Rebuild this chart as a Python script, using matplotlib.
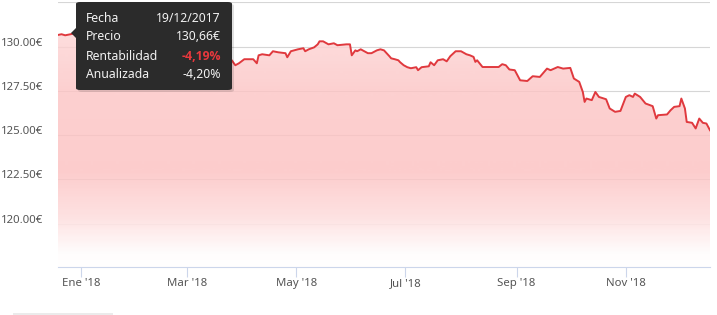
import numpy as np
import pandas as pd
import matplotlib
matplotlib.use('Agg')
import matplotlib.pyplot as plt
import matplotlib.dates as mdates
from matplotlib.patches import FancyBboxPatch, Polygon, Rectangle
from matplotlib.transforms import ScaledTranslation

plt.rcParams['font.family'] = ['Noto Sans', 'DejaVu Sans']

# price series
dates = ['2017-12-19', '2017-12-21', '2017-12-23', '2017-12-26', '2017-12-28',
         '2018-01-03', '2018-01-10', '2018-01-18', '2018-01-26', '2018-02-02',
         '2018-02-06', '2018-02-12', '2018-02-20', '2018-03-01', '2018-03-08',
         '2018-03-15', '2018-03-22', '2018-03-26', '2018-03-28', '2018-03-30',
         '2018-04-02', '2018-04-07', '2018-04-09', '2018-04-10', '2018-04-12',
         '2018-04-16', '2018-04-18', '2018-04-21', '2018-04-25', '2018-04-26',
         '2018-04-28', '2018-05-02', '2018-05-05', '2018-05-06', '2018-05-08',
         '2018-05-11', '2018-05-13', '2018-05-14', '2018-05-16', '2018-05-19',
         '2018-05-22', '2018-05-24', '2018-05-29', '2018-05-31', '2018-06-01',
         '2018-06-03', '2018-06-04', '2018-06-06', '2018-06-10', '2018-06-12',
         '2018-06-15', '2018-06-17', '2018-06-19', '2018-06-22', '2018-06-23',
         '2018-06-25', '2018-06-27', '2018-06-28', '2018-06-30', '2018-07-02',
         '2018-07-04', '2018-07-07', '2018-07-08', '2018-07-10', '2018-07-14',
         '2018-07-15', '2018-07-17', '2018-07-19', '2018-07-22', '2018-07-24',
         '2018-07-26', '2018-07-29', '2018-08-01', '2018-08-04', '2018-08-06',
         '2018-08-08', '2018-08-09', '2018-08-10', '2018-08-13', '2018-08-22',
         '2018-08-24', '2018-08-26', '2018-08-28', '2018-08-31', '2018-09-03',
         '2018-09-07', '2018-09-10', '2018-09-14', '2018-09-18', '2018-09-20',
         '2018-09-24', '2018-09-27', '2018-10-01', '2018-10-03', '2018-10-06',
         '2018-10-08', '2018-10-09', '2018-10-10', '2018-10-13', '2018-10-15',
         '2018-10-17', '2018-10-21', '2018-10-23', '2018-10-26', '2018-10-29',
         '2018-11-01', '2018-11-03', '2018-11-05', '2018-11-06', '2018-11-09',
         '2018-11-12', '2018-11-16', '2018-11-18', '2018-11-19', '2018-11-24',
         '2018-11-26', '2018-11-28', '2018-12-01', '2018-12-02', '2018-12-04',
         '2018-12-05', '2018-12-08', '2018-12-10', '2018-12-12', '2018-12-14',
         '2018-12-16', '2018-12-18']
precio = [130.66, 130.70, 130.64, 130.70, 130.75,
          130.90, 131.30, 131.10, 131.50, 130.60,
          129.40, 129.60, 129.90, 129.60, 129.80,
          129.50, 129.40, 129.23, 128.95, 129.06,
          129.29, 129.29, 129.06, 129.51, 129.57,
          129.51, 129.74, 129.68, 129.63, 129.40,
          129.74, 129.85, 129.91, 129.74, 129.85,
          129.96, 130.13, 130.30, 130.30, 130.13,
          130.19, 130.08, 130.13, 130.13, 129.51,
          129.79, 129.74, 129.85, 129.63, 129.63,
          129.79, 129.85, 129.79, 129.46, 129.34,
          129.29, 129.23, 129.12, 128.95, 128.84,
          128.78, 128.84, 128.67, 128.84, 128.89,
          129.12, 128.95, 129.23, 129.29, 129.17,
          129.46, 129.74, 129.74, 129.57, 129.51,
          129.42, 129.14, 129.23, 128.85, 128.85,
          129.01, 128.95, 128.71, 128.67, 128.10,
          128.06, 128.33, 128.29, 128.76, 128.67,
          128.85, 128.76, 128.80, 128.20, 128.01,
          127.44, 126.88, 127.07, 126.98, 127.44,
          127.16, 127.03, 126.51, 126.32, 126.37,
          127.16, 127.26, 127.16, 127.35, 127.16,
          126.79, 126.64, 125.94, 126.13, 126.17,
          126.41, 126.60, 126.64, 127.07, 126.51,
          125.75, 125.70, 125.38, 125.94, 125.70,
          125.66, 125.28]

ytick_vals = [120.0, 122.5, 125.0, 127.5, 130.0, 132.5]
ytick_labels = ['120.00€', '122.50€', '125.00€', '127.50€', '130.00€', '']
xtick_dates = ['2018-01-01', '2018-03-01', '2018-05-01', '2018-07-01', '2018-09-01', '2018-11-01']
xtick_labels = ["Ene '18", "Mar '18", "May '18", "Jul '18", "Sep '18", "Nov '18"]

tooltip_rows = [('Fecha', '19/12/2017'), ('Precio', '130,66€'),
                ('Rentabilidad', '-4,19%'), ('Anualizada', '-4,20%')]

x = mdates.date2num(pd.to_datetime(dates))
y = np.array(precio)

W, H = 717, 315
fig = plt.figure(figsize=(W / 100, H / 100), dpi=100)
ax = fig.add_axes([58 / W, (H - 267) / H, 652 / W, 265 / H])
ymin, ymax = 117.56, 132.52
ax.set_xlim(x[0], x[-1])
ax.set_ylim(ymin, ymax)

# gradient fill under the line, clipped to the area
# target colours over white, with the fill a bit see-through so the grid shows
stops_px = [0, 90, 170, 215, 252, 265]
stops_g = [228, 208, 205, 226, 253, 255]
stops_a = [0.8, 0.8, 0.8, 0.85, 1.0, 1.0]
rows = np.linspace(0, 265, 300)
tgt_r = np.interp(rows, stops_px, [254, 253, 253, 254, 255, 255])
tgt_g = np.interp(rows, stops_px, stops_g)
alpha = np.interp(rows, stops_px, stops_a)
grad = np.zeros((300, 1, 4))
grad[:, 0, 0] = np.clip((tgt_r - (1 - alpha) * 255) / alpha, 0, 255) / 255
grad[:, 0, 1] = np.clip((tgt_g - (1 - alpha) * 255) / alpha, 0, 255) / 255
grad[:, 0, 2] = grad[:, 0, 1]
grad[:, 0, 3] = alpha
im = ax.imshow(grad, aspect='auto', extent=[x[0], x[-1], ymin, ymax],
               origin='upper', zorder=1, interpolation='bilinear')
clip = Polygon(np.vstack([np.column_stack([x, y]), [[x[-1], ymin], [x[0], ymin]]]),
               closed=True, transform=ax.transData, facecolor='none', edgecolor='none')
ax.add_patch(clip)
im.set_clip_path(clip)

ax.plot(x, y, color='#e0393e', lw=1.4, zorder=3, solid_joinstyle='round')

ax.set_yticks(ytick_vals)
ax.set_yticklabels(ytick_labels)
ax.set_xticks(mdates.date2num(pd.to_datetime(xtick_dates)))
ax.set_xticklabels(xtick_labels)
ax.grid(axis='y', color='#d6d6d6', lw=0.8, zorder=0.5)
ax.set_axisbelow(True)
for s in ['top', 'right', 'left']:
    ax.spines[s].set_visible(False)
ax.spines['bottom'].set_color('#ccd6eb')
ax.spines['bottom'].set_linewidth(0.8)
ax.spines['bottom'].set_zorder(4)
ax.tick_params(axis='y', length=0, pad=10.8, labelsize=8.2, labelcolor='#555555')
ax.tick_params(axis='x', length=7.2, width=0.8, color='#ccd6eb', pad=0.5,
               labelsize=8.2, labelcolor='#555555')
off = ScaledTranslation(0, 5 / 100, fig.dpi_scale_trans)
for lab in ax.get_yticklabels():
    lab.set_transform(lab.get_transform() + off)

# tooltip box (figure pixel coords, origin top-left)
def fx(px):
    return px / W

def fy(py):
    return (H - py) / H

shadow = FancyBboxPatch((fx(78), fy(92)), fx(156), 88 / H,
                        boxstyle='round,pad=0,rounding_size=0.006',
                        transform=fig.transFigure, facecolor='#000000', alpha=0.12,
                        edgecolor='none', zorder=9)
fig.add_artist(shadow)
box = FancyBboxPatch((fx(76), fy(90)), fx(156), 88 / H,
                     boxstyle='round,pad=0,rounding_size=0.006',
                     transform=fig.transFigure, facecolor='#2b2b2b',
                     edgecolor='none', zorder=10)
fig.add_artist(box)
notch = Polygon([[fx(77), fy(27)], [fx(71), fy(33)], [fx(77), fy(39)]],
                closed=True, transform=fig.transFigure, facecolor='#2b2b2b',
                edgecolor='none', zorder=10)
fig.add_artist(notch)

row_y = [19, 37, 56, 74]
for (name, val), ry in zip(tooltip_rows, row_y):
    fig.text(fx(86), fy(ry), name, color='#f2f2f2', fontsize=8.8,
             ha='left', va='center', zorder=11)
    if name == 'Rentabilidad':
        fig.text(fx(221), fy(ry), val, color='#e8383d', fontsize=8.8,
                 fontweight='bold', family=['Open Sans', 'DejaVu Sans'],
                 ha='right', va='center', zorder=11)
    else:
        fig.text(fx(221), fy(ry), val, color='#f2f2f2', fontsize=8.8,
                 ha='right', va='center', zorder=11)

# faint bar at the bottom left
fig.add_artist(Rectangle((fx(13), 0), fx(100), 2.5 / H, transform=fig.transFigure,
                         facecolor='#ebebeb', edgecolor='none'))

fig.savefig('out.png', dpi=100)
